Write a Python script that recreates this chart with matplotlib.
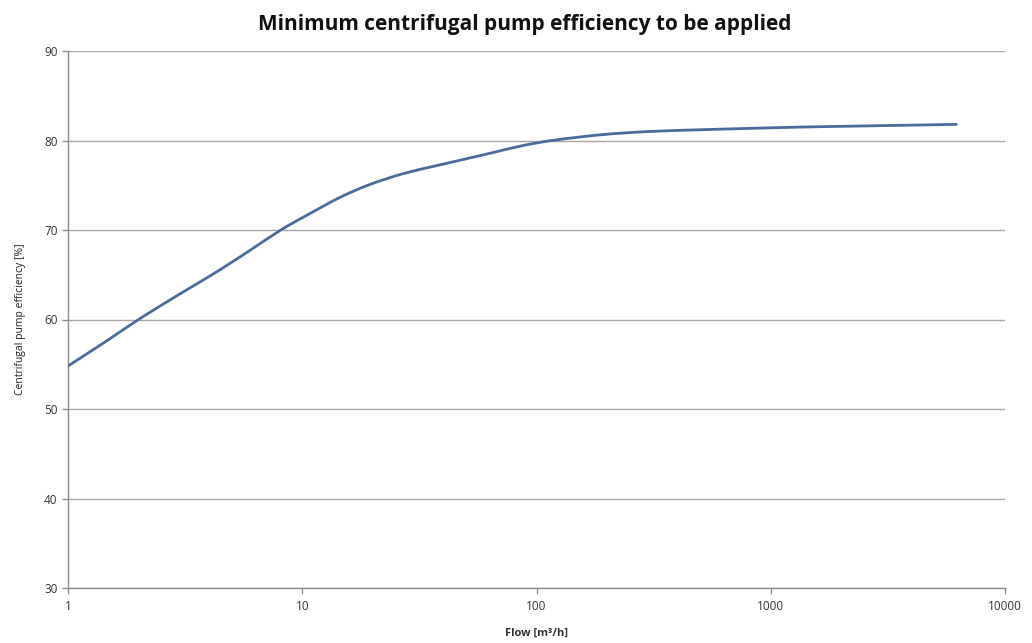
import matplotlib
matplotlib.use("Agg")
import numpy as np
import matplotlib.pyplot as plt
from matplotlib.path import Path
from matplotlib.patches import PathPatch

flow = [1, 1.5, 2, 3, 4, 5, 6, 8.1, 10.3, 14.5, 19.5, 27, 37.6, 50, 64, 88, 120,
        190, 300, 500, 800, 1340, 2200, 3600, 6200]
efficiency = [54.8, 57.8, 60.0, 62.85, 64.8, 66.4, 67.75, 70.0, 71.55, 73.65, 75.1,
              76.3, 77.2, 77.95, 78.6, 79.45, 80.05, 80.65, 81.0, 81.2, 81.35, 81.5,
              81.6, 81.7, 81.8]

x_ticks = [1, 10, 100, 1000, 10000]
x_tick_labels = ["1", "10", "100", "1000", "10000"]
y_ticks = [30, 40, 50, 60, 70, 80, 90]

plt.rcParams['font.family'] = ['Open Sans', 'DejaVu Sans']

fig = plt.figure(figsize=(10.32, 6.43), dpi=100)
ax = fig.add_axes([68/1032, 55/643, (1005-68)/1032, (588-51)/643])
ax.set_xscale('log')
ax.set_xlim(1, 10000)
ax.set_ylim(30, 90)

# smoothed line (Excel-style): Catmull-Rom curve through the data points,
# built in log-x space and drawn as cubic Bezier segments
lx = np.log10(np.asarray(flow, float))
ly = np.asarray(efficiency, float)
P = np.column_stack([lx, ly])
Pe = np.vstack([P[0] - (P[1] - P[0]), P, P[-1] + (P[-1] - P[-2])])
verts = [P[0]]
codes = [Path.MOVETO]
for i in range(len(P) - 1):
    p0, p1, p2, p3 = Pe[i], Pe[i + 1], Pe[i + 2], Pe[i + 3]
    c1 = p1 + (p2 - p0) / 6.0
    c2 = p2 - (p3 - p1) / 6.0
    verts += [c1, c2, p2]
    codes += [Path.CURVE4] * 3
verts = np.array(verts)
verts[:, 0] = 10 ** verts[:, 0]
ax.add_patch(PathPatch(Path(verts, codes), fill=False, edgecolor="#4a6c9b",
                       lw=2.0, capstyle='round', joinstyle='round', zorder=3))

ax.set_xticks(x_ticks)
ax.set_xticklabels(x_tick_labels)
ax.xaxis.set_minor_locator(matplotlib.ticker.NullLocator())
ax.set_yticks(y_ticks)

ax.grid(axis='y', color='#a6a6a6', lw=1.0)
ax.set_axisbelow(True)
for s in ['top', 'right']:
    ax.spines[s].set_visible(False)
for s in ['left', 'bottom']:
    ax.spines[s].set_color('#8c8c8c')
    ax.spines[s].set_linewidth(1.0)
ax.tick_params(axis='both', colors='#8c8c8c', labelcolor='#333333', labelsize=8.5, length=4, width=1)
ax.tick_params(axis='x', pad=5)

fig.text(0.5 * (68 + 1005) / 1032, 10 / 643, "Flow [m³/h]", fontsize=8, fontweight='bold',
         color='#333333', ha='center', va='center')
ax.set_ylabel("Centrifugal pump efficiency [%]", fontsize=7.5, color='#222222', labelpad=13)

fig.suptitle("Minimum centrifugal pump efficiency to be applied", x=0.508, y=0.978,
             fontsize=15, fontweight='bold', color='#111111')

fig.savefig("out.png", dpi=100)
